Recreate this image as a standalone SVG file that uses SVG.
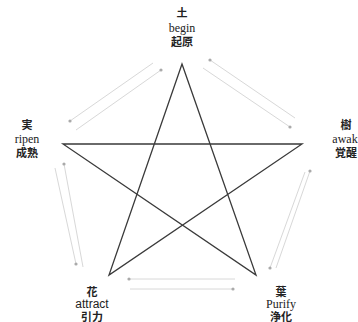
<svg xmlns="http://www.w3.org/2000/svg" width="358" height="322" viewBox="0 0 358 322">
<style>
.lat{font-family:"Liberation Serif","Times New Roman",serif;font-size:12px;fill:#222;text-anchor:middle}
.sans{font-family:"Liberation Sans",Arial,sans-serif;font-size:12px;fill:#222;text-anchor:middle}
.cjk{font-family:"Liberation Serif","Noto Sans CJK JP",serif;font-size:11px;fill:#222;text-anchor:middle;font-weight:bold}
.star{stroke:#3a3a3a;stroke-width:1.3;fill:none}
.con{stroke:#d8d8d8;stroke-width:1;fill:none}
</style>
<defs>
<marker id="dot" viewBox="0 0 4 4" refX="2" refY="2" markerWidth="4" markerHeight="4" markerUnits="userSpaceOnUse">
<circle cx="2" cy="2" r="1.6" fill="#aaa"/>
</marker>
</defs>
<rect width="358" height="322" fill="#fff"/>
<g id="star">
<polygon class="star" points="182,64 256,275 63,144 302,144 109,275"/>
</g>
<g id="connectors">
<line class="con" x1="153" y1="63" x2="70" y2="121" marker-end="url(#dot)"/>
<line class="con" x1="76" y1="130" x2="161" y2="70" marker-end="url(#dot)"/>
<line class="con" x1="295" y1="118" x2="210" y2="60" marker-end="url(#dot)"/>
<line class="con" x1="203" y1="68" x2="290" y2="127" marker-end="url(#dot)"/>
<line class="con" x1="276" y1="268" x2="310" y2="171" marker-end="url(#dot)"/>
<line class="con" x1="305" y1="172" x2="270" y2="268" marker-end="url(#dot)"/>
<line class="con" x1="235" y1="279" x2="129" y2="279" marker-end="url(#dot)"/>
<line class="con" x1="130" y1="289" x2="233" y2="289" marker-end="url(#dot)"/>
<line class="con" x1="55" y1="168" x2="76" y2="264" marker-end="url(#dot)"/>
<line class="con" x1="83" y1="267" x2="64" y2="164" marker-end="url(#dot)"/>
</g>
<g id="node-top">
<text class="cjk" x="182" y="17">土</text>
<text class="lat" x="182" y="32">begin</text>
<text class="cjk" x="182" y="46">起原</text>
</g>
<g id="node-left">
<text class="cjk" x="27" y="129">実</text>
<text class="lat" x="27" y="143">ripen</text>
<text class="cjk" x="27" y="157">成熟</text>
</g>
<g id="node-right">
<text class="cjk" x="346" y="129">樹</text>
<text class="lat" x="345" y="143">awak</text>
<text class="cjk" x="346" y="157">覚醒</text>
</g>
<g id="node-bottom-left">
<text class="cjk" x="92" y="296">花</text>
<text class="sans" x="92" y="308">attract</text>
<text class="cjk" x="92" y="321">引力</text>
</g>
<g id="node-bottom-right">
<text class="cjk" x="281" y="296">葉</text>
<text class="lat" x="281" y="308">Purify</text>
<text class="cjk" x="281" y="321">浄化</text>
</g>
</svg>
